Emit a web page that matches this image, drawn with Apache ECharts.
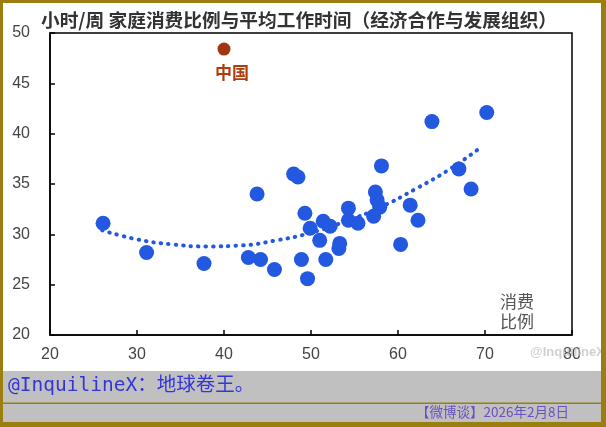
<!DOCTYPE html>
<html>
<head>
<meta charset="utf-8">
<script src="https://cdn.jsdelivr.net/npm/echarts@6/dist/echarts.min.js"></script>
<style>
html,body{margin:0;padding:0;background:#fff;}
#c{width:606px;height:427px;}
</style>
</head>
<body>
<div id="c"></div>
<script>
// Data
const titleText = '小时/周 家庭消费比例与平均工作时间（经济合作与发展组织）';
const countryX = [26.1, 31.1, 37.7, 42.8, 44.2, 45.8, 43.8, 48.0, 48.5, 49.3, 48.9, 49.6, 49.9, 51.0, 51.4, 52.2, 51.7, 53.3, 53.2, 54.3, 54.3, 55.4, 57.4, 57.6, 57.9, 57.2, 58.1, 60.3, 61.4, 62.3, 63.9, 67.0, 68.4, 70.2];
const countryY = [31.1, 28.2, 27.1, 27.7, 27.5, 26.5, 34.0, 36.0, 35.7, 32.1, 27.5, 25.6, 30.6, 29.4, 31.3, 30.8, 27.5, 29.1, 28.6, 32.6, 31.4, 31.1, 34.2, 33.4, 32.7, 31.8, 36.8, 29.0, 32.9, 31.4, 41.2, 36.5, 34.5, 42.1];
const chinaX = [40.0];
const chinaY = [48.4];
const chinaLabel = '中国';
const trendX = [26, 30, 34, 38, 42, 46, 50, 54, 58, 62, 66, 69.6];
const trendY = [30.4, 29.5, 29.0, 28.8, 28.9, 29.4, 30.15, 31.3, 32.7, 34.5, 36.5, 38.7];
const xTicks = [20, 30, 40, 50, 60, 70, 80];
const yTicks = [20, 25, 30, 35, 40, 45, 50];
const xName = '消费\n比例';
const footerText = '@InquilineX：地球卷王。';
const dateText = '【微博谈】2026年2月8日';
const watermark = '@InquilineX';

const pts = countryX.map((x, i) => [x, countryY[i]]);
const china = chinaX.map((x, i) => [x, chinaY[i]]);
const trend = trendX.map((x, i) => [x, trendY[i]]);

const gold = '#9a7f10';
const chart = echarts.init(document.getElementById('c'), null, {renderer: 'canvas'});
chart.setOption({
  animation: false,
  backgroundColor: '#fff',
  title: {
    text: titleText,
    left: 36, top: 6,
    textStyle: {fontFamily: 'Noto Sans CJK SC', fontSize: 18.7, fontWeight: 'bold', color: '#333'}
  },
  grid: {left: 50, right: 34, top: 33, bottom: 92, show: true, borderColor: '#000', borderWidth: 1.5, backgroundColor: 'transparent'},
  xAxis: {
    type: 'value', min: xTicks[0], max: xTicks[xTicks.length - 1], interval: 10,
    axisLine: {show: true, lineStyle: {color: '#000', width: 1.5}},
    axisTick: {show: true, inside: true, length: 5, lineStyle: {color: '#000', width: 1.5}},
    splitLine: {show: false},
    axisLabel: {margin: 12, fontFamily: 'Liberation Sans', fontSize: 16, color: '#444'}
  },
  yAxis: {
    type: 'value', min: yTicks[0], max: yTicks[yTicks.length - 1], interval: 5,
    axisLine: {show: true, lineStyle: {color: '#000', width: 1.5}},
    axisTick: {show: true, inside: true, length: 5, lineStyle: {color: '#000', width: 1.5}},
    splitLine: {show: false},
    axisLabel: {margin: 20, fontFamily: 'Liberation Sans', fontSize: 16, color: '#444'}
  },
  graphic: [
    {type: 'rect', shape: {x: 0, y: 371, width: 606, height: 56}, style: {fill: '#c0c0c0'}, z: -1},
    {type: 'rect', shape: {x: 0, y: 402.5, width: 606, height: 1.5}, style: {fill: gold}},
    {type: 'rect', shape: {x: 0, y: 0, width: 606, height: 3}, style: {fill: gold}, z: 100},
    {type: 'rect', shape: {x: 0, y: 422, width: 606, height: 5}, style: {fill: gold}, z: 100},
    {type: 'rect', shape: {x: 0, y: 0, width: 3, height: 427}, style: {fill: gold}, z: 100},
    {type: 'rect', shape: {x: 601, y: 0, width: 5, height: 427}, style: {fill: gold}, z: 100},
    {type: 'text', x: 8, y: 376, style: {text: footerText, font: '19.5px "DejaVu Sans Mono", "Noto Sans CJK SC"', fill: '#3434dc'}},
    {type: 'text', x: 569, y: 405, style: {text: dateText, font: '13.5px "Noto Sans CJK SC"', fill: '#6a50c0', align: 'right'}},
    {type: 'text', x: 500, y: 292, style: {text: xName, font: '17px "Noto Sans CJK SC"', fill: '#555', lineHeight: 20}},
    {type: 'text', x: 530, y: 346, style: {text: watermark, font: 'bold 13px "Liberation Sans"', fill: 'rgba(190,190,190,0.7)'}, z: 50}
  ],
  series: [
    {
      type: 'scatter', data: pts, symbolSize: 15,
      itemStyle: {color: '#2358e0', opacity: 1}, z: 3
    },
    {
      type: 'line', data: trend, smooth: true, showSymbol: false, symbol: 'none',
      lineStyle: {color: '#2358e0', width: 4, type: [0.5, 7], cap: 'round'}, z: 4
    },
    {
      type: 'scatter', data: china, symbolSize: 13,
      itemStyle: {color: '#a0360e', opacity: 1},
      label: {show: true, position: 'bottom', distance: 8, offset: [8, 0], formatter: chinaLabel,
        fontFamily: 'Noto Sans CJK SC', fontSize: 17, fontWeight: 'bold', color: '#b03c0c'}
    }
  ]
});
</script>
</body>
</html>
